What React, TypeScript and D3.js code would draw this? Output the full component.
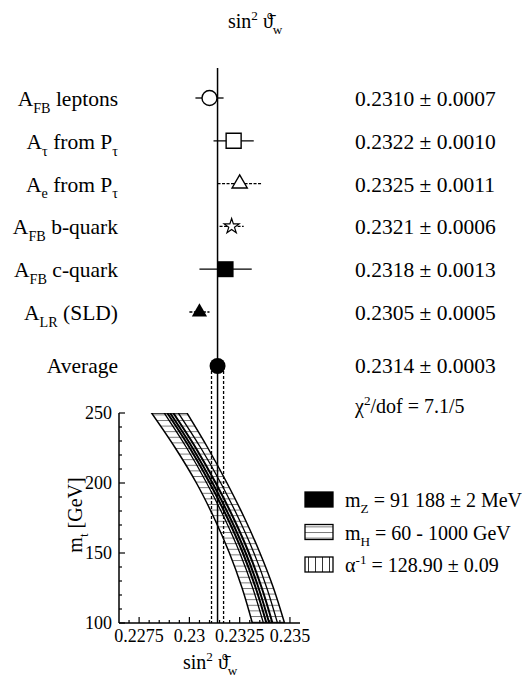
import React from "react";
import * as d3 from "d3";

// ---------- data ----------
const measurementLabels: [string, "n" | "sub" | "sup"][][] = [
  [["A", "n"], ["FB", "sub"], [" leptons", "n"]],
  [["A", "n"], ["τ", "sub"], [" from P", "n"], ["τ", "sub"]],
  [["A", "n"], ["e", "sub"], [" from P", "n"], ["τ", "sub"]],
  [["A", "n"], ["FB", "sub"], [" b-quark", "n"]],
  [["A", "n"], ["FB", "sub"], [" c-quark", "n"]],
  [["A", "n"], ["LR", "sub"], [" (SLD)", "n"]],
];
const measValues = [0.231, 0.2322, 0.2325, 0.2321, 0.2318, 0.2305];
const measErrors = [0.0007, 0.001, 0.0011, 0.0006, 0.0013, 0.0005];
const measMarkers = ["circleOpen", "squareOpen", "triangleOpen", "starOpen", "squareFilled", "triangleFilled"];
const measDashed = [false, false, true, true, false, true];

const averageValue = 0.2314;
const averageError = 0.0003;
const chi2Text = "/dof = 7.1/5";

// SM prediction bands, sin^2 vs m_t
const mtGrid = [100, 125, 150, 175, 200, 225, 250];
const higgsLow = [0.23313, 0.23262, 0.23199, 0.23123, 0.23035, 0.22930, 0.22812];
const higgsHigh = [0.23473, 0.23418, 0.23351, 0.23274, 0.23187, 0.23092, 0.22988];
const alphaLow = [0.23368, 0.23315, 0.23251, 0.23174, 0.23086, 0.22987, 0.22875];
const alphaHigh = [0.23438, 0.23385, 0.23321, 0.23244, 0.23156, 0.23057, 0.22945];
const mzLineA = [0.23383, 0.2333, 0.23266, 0.23189, 0.23101, 0.23002, 0.2289];
const mzLineB = [0.23397, 0.23344, 0.2328, 0.23203, 0.23115, 0.23016, 0.22904];
const mzLineC = [0.23413, 0.2336, 0.23296, 0.23219, 0.23131, 0.23032, 0.2292];

const xTickValues = [0.2275, 0.23, 0.2325, 0.235];
const xTickLabels = ["0.2275", "0.23", "0.2325", "0.235"];
const yTickValues = [100, 150, 200, 250];

const legendItems: { kind: string; parts: [string, "n" | "sub" | "sup"][] }[] = [
  { kind: "solid", parts: [["m", "n"], ["Z", "sub"], [" = 91 188 ± 2 MeV", "n"]] },
  { kind: "hhatch", parts: [["m", "n"], ["H", "sub"], [" = 60 - 1000 GeV", "n"]] },
  { kind: "vhatch", parts: [["α", "n"], ["-1", "sup"], [" = 128.90 ± 0.09", "n"]] },
];

// ---------- layout ----------
const W = 522;
const H = 681;
const FONT = "'Liberation Serif', 'Times New Roman', serif";

const x = d3.scaleLinear().domain([0.2265, 0.2355]).range([119, 300]);
const y = d3.scaleLinear().domain([100, 250]).range([623, 413]);
const rowY = d3.scaleLinear().domain([0, 5]).range([98, 312]);
const avgY = 366;

function rich(parts: [string, "n" | "sub" | "sup"][], fs: number) {
  let cur = 0;
  return parts.map(([t, k], i) => {
    const target = k === "sub" ? fs * 0.32 : k === "sup" ? -fs * 0.4 : 0;
    const dy = target - cur;
    cur = target;
    return (
      <tspan key={i} dy={dy !== 0 ? dy : undefined} fontSize={k === "n" ? fs : fs * 0.66}>
        {t}
      </tspan>
    );
  });
}

function Marker({ type, cx, cy }: { type: string; cx: number; cy: number }) {
  const sw = 1.4;
  if (type === "circleOpen") return <circle cx={cx} cy={cy} r={7.5} fill="#fff" stroke="#000" strokeWidth={sw} />;
  if (type === "squareOpen")
    return <path d={d3.symbol(d3.symbolSquare, 225)()!} transform={`translate(${cx},${cy})`} fill="#fff" stroke="#000" strokeWidth={sw} />;
  if (type === "squareFilled")
    return <path d={d3.symbol(d3.symbolSquare, 256)()!} transform={`translate(${cx},${cy})`} fill="#000" />;
  if (type === "triangleOpen")
    return <path d={d3.symbol(d3.symbolTriangle, 100)()!} transform={`translate(${cx},${cy})`} fill="#fff" stroke="#000" strokeWidth={sw} />;
  if (type === "triangleFilled")
    return <path d={d3.symbol(d3.symbolTriangle, 100)()!} transform={`translate(${cx},${cy})`} fill="#000" />;
  if (type === "starOpen")
    return <path d={d3.symbol(d3.symbolStar, 70)()!} transform={`translate(${cx},${cy})`} fill="#fff" stroke="#000" strokeWidth={1.2} />;
  return null;
}

export default function App() {
  const fmt = d3.format(".4f");
  const band = (lo: number[], hi: number[]) =>
    d3
      .area<number>()
      .y((_, i) => y(mtGrid[i]))
      .x0((_, i) => x(lo[i]))
      .x1((_, i) => x(hi[i]))
      .curve(d3.curveMonotoneY)(mtGrid)!;
  const line = (v: number[]) =>
    d3
      .line<number>()
      .y((_, i) => y(mtGrid[i]))
      .x((_, i) => x(v[i]))
      .curve(d3.curveMonotoneY)(mtGrid)!;

  const minorX = d3.range(0.227, 0.2355, 0.0005);
  const minorY = d3.range(100, 251, 10);

  return (
    <svg width={W} height={H} style={{ position: "absolute", left: 0, top: 0 }} fontFamily={FONT}>
      <defs>
        <pattern id="hh" patternUnits="userSpaceOnUse" width={8} height={5.6}>
          <rect width={8} height={5.6} fill="#fff" />
          <line x1={0} x2={8} y1={0.5} y2={0.5} stroke="#555" strokeWidth={0.8} />
        </pattern>
        <pattern id="vh" patternUnits="userSpaceOnUse" width={7} height={8}>
          <rect width={7} height={8} fill="#fff" />
          <line x1={0.5} x2={0.5} y1={0} y2={8} stroke="#333" strokeWidth={1} />
        </pattern>
        <clipPath id="plotClip">
          <rect x={119} y={413} width={181} height={210} />
        </clipPath>
      </defs>

      {/* title */}
      <text x={228} y={28} fontSize={20} fill="#000">
        {rich([["sin", "n"], ["2", "sup"], [" ϑ̄", "n"], ["w", "sub"]], 20)}
      </text>

      {/* measurement rows */}
      {measValues.map((v, i) => {
        const cy = rowY(i);
        return (
          <g key={i}>
            <text x={118} y={cy + 8} textAnchor="end" fontSize={21.5}>
              {rich(measurementLabels[i], 21.5)}
            </text>
            <text x={355} y={cy + 8} fontSize={21.5}>
              {`${fmt(v)} ± ${fmt(measErrors[i])}`}
            </text>
          </g>
        );
      })}
      <text x={118} y={avgY + 7} textAnchor="end" fontSize={21.5}>Average</text>
      <text x={355} y={avgY + 7} fontSize={21.5}>{`${fmt(averageValue)} ± ${fmt(averageError)}`}</text>
      <text x={355} y={413} fontSize={20}>
        {rich([["χ", "n"], ["2", "sup"], [chi2Text, "n"]], 20)}
      </text>

      {/* bands */}
      <g clipPath="url(#plotClip)">
        <path d={band(higgsLow, higgsHigh)} fill="url(#hh)" stroke="#000" strokeWidth={1.5} />
        <path d={band(alphaLow, alphaHigh)} fill="url(#hh)" stroke="#000" strokeWidth={1.3} />
        <path d={line(mzLineA)} fill="none" stroke="#000" strokeWidth={2} />
        <path d={line(mzLineB)} fill="none" stroke="#000" strokeWidth={2} />
        <path d={line(mzLineC)} fill="none" stroke="#000" strokeWidth={2} />
      </g>

      {/* central average line and dashed band */}
      <line x1={x(averageValue)} x2={x(averageValue)} y1={68} y2={623} stroke="#000" strokeWidth={1.5} />
      <line x1={x(averageValue - averageError)} x2={x(averageValue - averageError)} y1={avgY} y2={623} stroke="#000" strokeWidth={1.3} strokeDasharray="3,2" />
      <line x1={x(averageValue + averageError)} x2={x(averageValue + averageError)} y1={avgY} y2={623} stroke="#000" strokeWidth={1.3} strokeDasharray="3,2" />

      {/* measurement markers */}
      {measValues.map((v, i) => {
        const cy = rowY(i);
        return (
          <g key={i}>
            <line
              x1={x(v - measErrors[i])}
              x2={x(v + measErrors[i])}
              y1={cy}
              y2={cy}
              stroke="#000"
              strokeWidth={1.3}
              strokeDasharray={measDashed[i] ? "3,1.5" : undefined}
            />
            <Marker type={measMarkers[i]} cx={x(v)} cy={cy} />
          </g>
        );
      })}
      <circle cx={x(averageValue)} cy={avgY} r={8} fill="#000" />

      {/* axes */}
      <line x1={119} x2={119} y1={413} y2={623} stroke="#000" strokeWidth={1.5} />
      <line x1={119} x2={300} y1={623} y2={623} stroke="#000" strokeWidth={1.5} />
      {minorY.map((m) => (
        <line key={m} x1={119} x2={m % 50 === 0 ? 125 : 122} y1={y(m)} y2={y(m)} stroke="#000" strokeWidth={1.2} />
      ))}
      {minorX.map((v, i) => (
        <line key={i} x1={x(v)} x2={x(v)} y1={623} y2={Math.abs((v * 10000) % 25) < 0.01 || Math.abs((v * 10000) % 25 - 25) < 0.01 ? 617 : 620} stroke="#000" strokeWidth={1.2} />
      ))}
      {yTickValues.map((m) => (
        <text key={m} x={112} y={y(m) + 6} textAnchor="end" fontSize={18}>
          {m}
        </text>
      ))}
      {xTickValues.map((v, i) => (
        <text key={i} x={x(v)} y={642} textAnchor="middle" fontSize={18}>
          {xTickLabels[i]}
        </text>
      ))}
      <text x={183} y={669} fontSize={20}>
        {rich([["sin", "n"], ["2", "sup"], [" ϑ̄", "n"], ["w", "sub"]], 20)}
      </text>
      <text transform="translate(82,515) rotate(-90)" textAnchor="middle" fontSize={20}>
        {rich([["m", "n"], ["t", "sub"], [" [GeV]", "n"]], 20)}
      </text>

      {/* legend */}
      {legendItems.map((it, i) => {
        const by = 507 + i * 32.5;
        return (
          <g key={i}>
            <rect
              x={305}
              y={by - 15}
              width={28}
              height={15}
              fill={it.kind === "solid" ? "#000" : it.kind === "hhatch" ? "url(#hh)" : "url(#vh)"}
              stroke="#000"
              strokeWidth={1.3}
            />
            <text x={345} y={by} fontSize={20}>
              {rich(it.parts, 20)}
            </text>
          </g>
        );
      })}
    </svg>
  );
}
